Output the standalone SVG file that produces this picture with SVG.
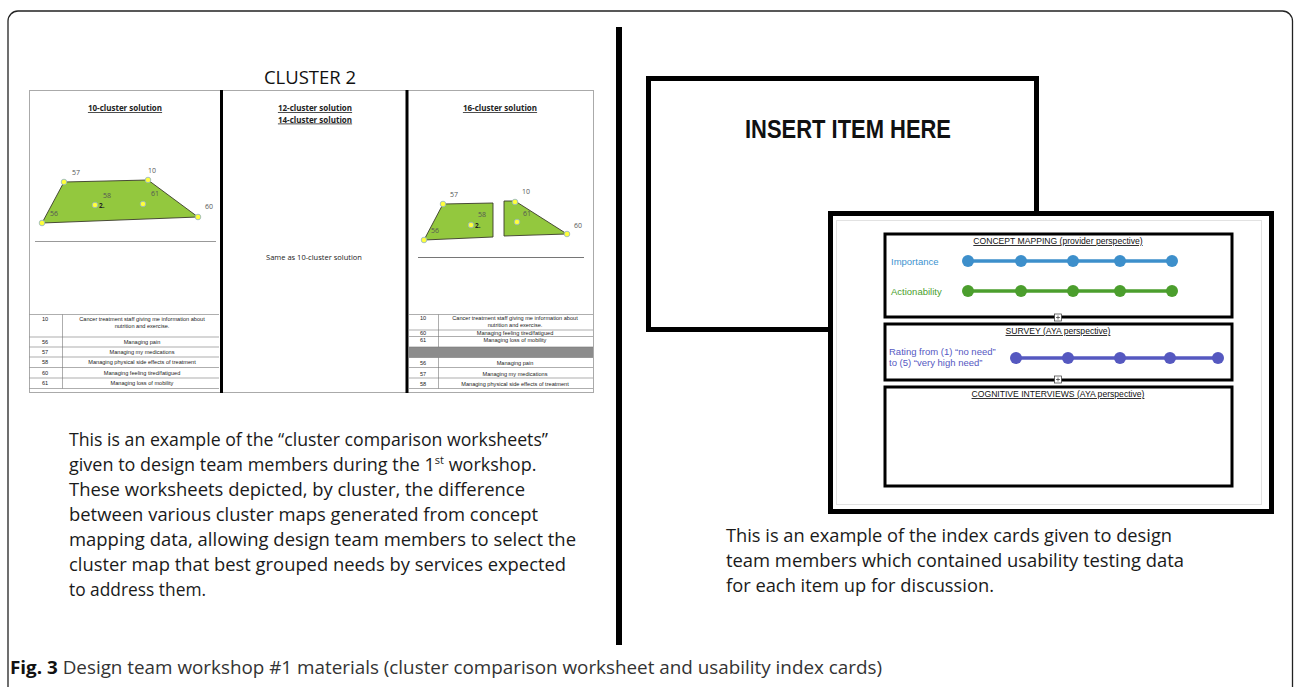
<svg xmlns="http://www.w3.org/2000/svg" width="1295" height="687" viewBox="0 0 1295 687">
<style>
.cap{font-family:"Open Sans","Liberation Sans",sans-serif;font-size:18px;fill:#1a1a1a}
.hd{font-family:"Open Sans","Liberation Sans",sans-serif;font-size:8px;font-weight:bold;fill:#222;text-anchor:middle;text-decoration:underline}
.num{font-family:"Open Sans","Liberation Sans",sans-serif;font-size:7px;fill:#555}
.tb{font-family:"Liberation Sans",Arial,sans-serif;font-size:5.6px;fill:#222;text-anchor:middle}
.tl{stroke:#777;stroke-width:0.6;fill:none}
.dot{fill:#ffff3c;stroke:#8fb3c8;stroke-width:0.8}
.poly{fill:#93c83e;stroke:#3a3a2a;stroke-width:0.9}
.box{fill:#fff;stroke:#000;stroke-width:3}
.sec{font-family:"Liberation Sans",Arial,sans-serif;font-size:8.6px;fill:#111;text-anchor:middle;text-decoration:underline}
.lbl{font-family:"Liberation Sans",Arial,sans-serif;font-size:9.5px}
.plus{fill:#fff;stroke:#333;stroke-width:0.7}
</style>
<rect width="1295" height="687" fill="#fff"/>
<g id="frame"><rect x="8" y="11" width="1284.5" height="700" rx="10" fill="none" stroke="#222" stroke-width="1.3"/></g>
<g id="divider"><rect x="616" y="27" width="6" height="618" fill="#000"/></g>

<g id="worksheet">
  <text x="310" y="84" font-family="Open Sans,Liberation Sans,sans-serif" font-size="18.5" fill="#111" text-anchor="middle">CLUSTER 2</text>
  <rect x="29.5" y="90.5" width="564" height="302" fill="#fff" stroke="#aaa" stroke-width="1"/>
  <rect x="220" y="90" width="3" height="303" fill="#000"/>
  <rect x="405.5" y="90" width="3" height="303" fill="#000"/>
  <g id="col10">
    <text class="hd" x="125" y="111">10-cluster solution</text>
    <polygon class="poly" points="42,223 64,182 148,180 198,217"/>
    <line x1="35" y1="241.5" x2="216" y2="241.5" stroke="#999" stroke-width="1.2"/>
    <circle class="dot" cx="64" cy="182" r="2.8"/><circle class="dot" cx="148" cy="180" r="2.8"/>
    <circle class="dot" cx="198" cy="217" r="2.8"/><circle class="dot" cx="42" cy="223" r="2.8"/>
    <circle class="dot" cx="95" cy="205" r="2.8"/><circle class="dot" cx="143" cy="204" r="2.8"/>
    <text class="num" x="72" y="175">57</text><text class="num" x="148" y="173">10</text>
    <text class="num" x="103" y="198">58</text><text class="num" x="151" y="196">61</text>
    <text class="num" x="205" y="209">60</text><text class="num" x="50" y="216">56</text>
    <text x="99" y="208" font-family="Open Sans,Liberation Sans,sans-serif" font-size="6.5" font-weight="bold" fill="#222">2.</text>
    <g id="table10">
      <path class="tl" d="M29.5 314.5H219M29.5 337H219M29.5 347H219M29.5 357H219M29.5 367.5H219M29.5 378H219M29.5 388.5H219M62.5 314.5V388.5"/>
      <text class="tb" x="45" y="321">10</text><text class="tb" x="142" y="321">Cancer treatment staff giving me information about</text>
      <text class="tb" x="142" y="328">nutrition and exercise.</text>
      <text class="tb" x="45" y="344">56</text><text class="tb" x="142" y="344">Managing pain</text>
      <text class="tb" x="45" y="354">57</text><text class="tb" x="142" y="354">Managing my medications</text>
      <text class="tb" x="45" y="364">58</text><text class="tb" x="142" y="364">Managing physical side effects of treatment</text>
      <text class="tb" x="45" y="374.5">60</text><text class="tb" x="142" y="374.5">Managing feeling tired/fatigued</text>
      <text class="tb" x="45" y="385">61</text><text class="tb" x="142" y="385">Managing loss of mobility</text>
    </g>
  </g>
  <g id="col12">
    <text class="hd" x="315" y="111">12-cluster solution</text>
    <text class="hd" x="315" y="122.5">14-cluster solution</text>
    <text x="314" y="260" font-family="Open Sans,Liberation Sans,sans-serif" font-size="7.5" fill="#222" text-anchor="middle">Same as 10-cluster solution</text>
  </g>
  <g id="col16">
    <text class="hd" x="500" y="111">16-cluster solution</text>
    <polygon class="poly" points="424,240 443,204 493,203 493,237"/>
    <polygon class="poly" points="504,201 515,201 567,234 504,236"/>
    <line x1="418" y1="257.5" x2="584" y2="257.5" stroke="#666" stroke-width="0.9"/>
    <circle class="dot" cx="443" cy="204" r="2.8"/><circle class="dot" cx="515" cy="202" r="2.8"/>
    <circle class="dot" cx="567" cy="234" r="2.8"/><circle class="dot" cx="424" cy="240" r="2.8"/>
    <circle class="dot" cx="471" cy="225" r="2.8"/><circle class="dot" cx="517" cy="222" r="2.8"/>
    <text class="num" x="450" y="197">57</text><text class="num" x="522" y="194">10</text>
    <text class="num" x="478" y="217">58</text><text class="num" x="523" y="216">61</text>
    <text class="num" x="574" y="228">60</text><text class="num" x="431" y="233">56</text>
    <text x="475" y="228" font-family="Open Sans,Liberation Sans,sans-serif" font-size="6.5" font-weight="bold" fill="#222">2.</text>
    <g id="table16">
      <rect x="409" y="347" width="184" height="10.5" fill="#8c8c8c"/>
      <path class="tl" d="M409 314.5H593M409 330H593M409 336.5H593M409 347H593M409 357.5H593M409 367.5H593M409 378H593M409 388.5H593M438.5 314.5V347M438.5 357.5V388.5"/>
      <text class="tb" x="423" y="320">10</text><text class="tb" x="515" y="320">Cancer treatment staff giving me information about</text>
      <text class="tb" x="515" y="327">nutrition and exercise.</text>
      <text class="tb" x="423" y="335">60</text><text class="tb" x="515" y="335">Managing feeling tired/fatigued</text>
      <text class="tb" x="423" y="342">61</text><text class="tb" x="515" y="342">Managing loss of mobility</text>
      <text class="tb" x="423" y="365">56</text><text class="tb" x="515" y="365">Managing pain</text>
      <text class="tb" x="423" y="375.5">57</text><text class="tb" x="515" y="375.5">Managing my medications</text>
      <text class="tb" x="423" y="386">58</text><text class="tb" x="515" y="386">Managing physical side effects of treatment</text>
    </g>
  </g>
</g>

<g id="left-caption" class="cap">
  <text x="69" y="446" textLength="479" lengthAdjust="spacingAndGlyphs">This is an example of the “cluster comparison worksheets”</text>
  <text x="69" y="471">given to design team members during the 1<tspan font-size="11" dy="-7">st</tspan><tspan dy="7"> workshop.</tspan></text>
  <text x="69" y="496" textLength="456" lengthAdjust="spacingAndGlyphs">These worksheets depicted, by cluster, the difference</text>
  <text x="69" y="521" textLength="469" lengthAdjust="spacingAndGlyphs">between various cluster maps generated from concept</text>
  <text x="69" y="546" textLength="507" lengthAdjust="spacingAndGlyphs">mapping data, allowing design team members to select the</text>
  <text x="69" y="571" textLength="497" lengthAdjust="spacingAndGlyphs">cluster map that best grouped needs by services expected</text>
  <text x="69" y="596" textLength="137" lengthAdjust="spacingAndGlyphs">to address them.</text>
</g>

<g id="card1">
  <rect x="648.5" y="78.5" width="388" height="251" fill="#fff" stroke="#000" stroke-width="5"/>
  <text x="745" y="138" font-family="Liberation Sans,Arial,sans-serif" font-size="25" font-weight="bold" fill="#111" textLength="206" lengthAdjust="spacingAndGlyphs">INSERT ITEM HERE</text>
</g>

<g id="card2">
  <rect x="830.5" y="213.5" width="441" height="298" fill="#fff" stroke="#000" stroke-width="5"/>
  <rect x="836.5" y="220.5" width="425" height="284" fill="none" stroke="#e2e2e2" stroke-width="1"/>
  <g id="concept-mapping">
    <rect class="box" x="885" y="234" width="347" height="83"/>
    <text class="sec" x="1058" y="244">CONCEPT MAPPING (provider perspective)</text>
    <text class="lbl" x="891" y="264.5" fill="#3d93d0">Importance</text>
    <line x1="968" y1="261" x2="1172" y2="261" stroke="#3d8fcb" stroke-width="3.5"/>
    <g fill="#3d8fcb"><circle cx="968" cy="261" r="6"/><circle cx="1021" cy="261" r="6"/><circle cx="1073" cy="261" r="6"/><circle cx="1120" cy="261" r="6"/><circle cx="1172" cy="261" r="6"/></g>
    <text class="lbl" x="891" y="294.5" fill="#4aa02c">Actionability</text>
    <line x1="968" y1="291" x2="1172" y2="291" stroke="#4b9e2d" stroke-width="3.5"/>
    <g fill="#4b9e2d"><circle cx="968" cy="291" r="6"/><circle cx="1021" cy="291" r="6"/><circle cx="1073" cy="291" r="6"/><circle cx="1120" cy="291" r="6"/><circle cx="1172" cy="291" r="6"/></g>
    <rect class="plus" x="1054.5" y="314" width="7" height="7"/>
    <path d="M1058 315.5V319.5M1056 317.5H1060" stroke="#333" stroke-width="0.7"/>
  </g>
  <g id="survey">
    <rect class="box" x="885" y="324" width="347" height="56"/>
    <text class="sec" x="1058" y="334">SURVEY (AYA perspective)</text>
    <text class="lbl" x="889" y="355" fill="#5658c2" font-size="9">Rating from (1) “no need”</text>
    <text class="lbl" x="889" y="366" fill="#5658c2" font-size="9">to (5) “very high need”</text>
    <line x1="1016" y1="358" x2="1218" y2="358" stroke="#5558c0" stroke-width="3.5"/>
    <g fill="#5558c0"><circle cx="1016" cy="358" r="6"/><circle cx="1068" cy="358" r="6"/><circle cx="1120" cy="358" r="6"/><circle cx="1170" cy="358" r="6"/><circle cx="1218" cy="358" r="6"/></g>
    <rect class="plus" x="1054.5" y="376" width="7" height="7"/>
    <path d="M1058 377.5V381.5M1056 379.5H1060" stroke="#333" stroke-width="0.7"/>
  </g>
  <g id="cognitive">
    <rect class="box" x="885" y="387" width="347" height="99"/>
    <text class="sec" x="1058" y="397">COGNITIVE INTERVIEWS (AYA perspective)</text>
  </g>
</g>

<g id="right-caption" class="cap">
  <text x="726" y="542" textLength="446" lengthAdjust="spacingAndGlyphs">This is an example of the index cards given to design</text>
  <text x="726" y="567" textLength="458" lengthAdjust="spacingAndGlyphs">team members which contained usability testing data</text>
  <text x="726" y="592" textLength="268" lengthAdjust="spacingAndGlyphs">for each item up for discussion.</text>
</g>

<g id="fig-caption">
  <text x="10" y="674" font-family="Open Sans,Liberation Sans,sans-serif" font-size="18.5" fill="#333" textLength="872" lengthAdjust="spacingAndGlyphs"><tspan font-weight="bold" fill="#111">Fig. 3</tspan> Design team workshop #1 materials (cluster comparison worksheet and usability index cards)</text>
</g>
</svg>
